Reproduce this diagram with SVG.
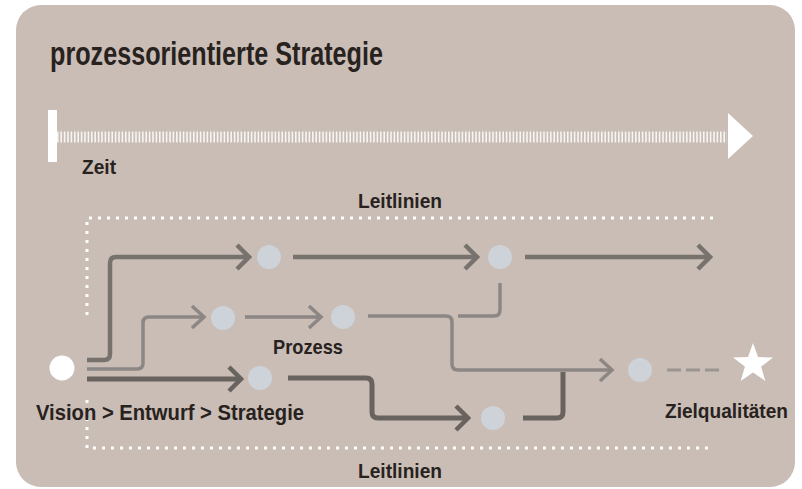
<svg xmlns="http://www.w3.org/2000/svg" width="802" height="489" viewBox="0 0 802 489">
<style>
.t{font-family:"Liberation Sans","Arial",sans-serif;font-weight:bold;fill:#28221f}
.dot{fill:none;stroke:#ffffff;stroke-width:3;stroke-dasharray:3 6}
.c{fill:none;stroke-linejoin:round}
.dk{stroke:#69635f;stroke-width:5}
.md{stroke:#78726f;stroke-width:4.5}
.lt{stroke:#8c8684;stroke-width:3.5}
.node{fill:#cdd3d8}
</style>
<defs>
<marker id="aDk" markerUnits="userSpaceOnUse" markerWidth="18" markerHeight="28" viewBox="0 0 18 28" refX="15" refY="14" orient="auto">
<path d="M3,2 L15,14 L3,26" fill="none" stroke="#69635f" stroke-width="4.5"/>
</marker>
<marker id="aMd" markerUnits="userSpaceOnUse" markerWidth="18" markerHeight="28" viewBox="0 0 18 28" refX="15" refY="14" orient="auto">
<path d="M3,2 L15,14 L3,26" fill="none" stroke="#78726f" stroke-width="4.5"/>
</marker>
<marker id="aLt" markerUnits="userSpaceOnUse" markerWidth="18" markerHeight="28" viewBox="0 0 18 28" refX="15" refY="14" orient="auto">
<path d="M3,3 L15,14 L3,25" fill="none" stroke="#8c8684" stroke-width="3.5"/>
</marker>
</defs>
<rect width="802" height="489" fill="#ffffff"/>
<rect x="16" y="5" width="779" height="482" rx="25" fill="#c9bdb5"/>

<text class="t" x="50" y="65" font-size="33" textLength="333" lengthAdjust="spacingAndGlyphs">prozessorientierte Strategie</text>

<g id="timeline">
<rect x="48" y="110" width="9" height="52" fill="#ffffff"/>
<path d="M57,137 H727" stroke="#ffffff" stroke-opacity="0.85" stroke-width="11" stroke-dasharray="1.6 1.8" fill="none"/>
<polygon points="728,113 753,136 728,159" fill="#ffffff"/>
<text class="t" x="82" y="174" font-size="20.5" textLength="34" lengthAdjust="spacingAndGlyphs">Zeit</text>
</g>

<g id="leitlinien">
<path class="dot" d="M713,218 H87 V320"/>
<path class="dot" d="M87,400 V448 H713"/>
<text class="t" x="358" y="208" font-size="20.5" textLength="84" lengthAdjust="spacingAndGlyphs">Leitlinien</text>
<text class="t" x="358" y="478" font-size="20.5" textLength="84" lengthAdjust="spacingAndGlyphs">Leitlinien</text>
</g>

<g id="connectors">
<path class="c md" d="M87,360 H104 Q110,360 110,354 V263 Q110,257 116,257 H249" marker-end="url(#aMd)"/>
<path class="c md" d="M293,257 H477" marker-end="url(#aMd)"/>
<path class="c md" d="M525,257 H710" marker-end="url(#aMd)"/>
<path class="c lt" d="M87,369 H137 Q143,369 143,363 V323 Q143,317 149,317 H204" marker-end="url(#aLt)"/>
<path class="c lt" d="M245,317 H321" marker-end="url(#aLt)"/>
<path class="c lt" d="M368,316 H446 Q452,316 452,322 V364 Q452,370 458,370 H612" marker-end="url(#aLt)"/>
<path class="c lt" d="M500,283 V310 Q500,316 494,316 H458"/>
<path class="c dk" d="M87,379 H241" marker-end="url(#aDk)"/>
<path class="c dk" d="M288,378 H366 Q372,378 372,384 V412 Q372,418 378,418 H468" marker-end="url(#aDk)"/>
<path class="c dk" d="M523,418 H557 Q563,418 563,412 V372"/>
<path d="M667,370 H722" fill="none" stroke="#9a9593" stroke-width="3" stroke-dasharray="14 5"/>
</g>

<g id="vision">
<circle cx="62" cy="368" r="12.5" fill="#ffffff"/>
<text class="t" x="36" y="420" font-size="22.5" textLength="268" lengthAdjust="spacingAndGlyphs">Vision &gt; Entwurf &gt; Strategie</text>
</g>
<g id="n1"><circle class="node" cx="269" cy="257" r="12"/></g>
<g id="n2"><circle class="node" cx="500" cy="257" r="12"/></g>
<g id="n3"><circle class="node" cx="223" cy="318" r="12"/></g>
<g id="n4"><circle class="node" cx="343" cy="317" r="12"/></g>
<g id="prozess"><text class="t" x="273" y="354" font-size="20.5" textLength="70" lengthAdjust="spacingAndGlyphs">Prozess</text></g>
<g id="n5"><circle class="node" cx="260" cy="378" r="12"/></g>
<g id="n6"><circle class="node" cx="493" cy="418" r="12"/></g>
<g id="n7"><circle class="node" cx="640" cy="370" r="12"/></g>
<g id="ziel">
<polygon points="753,343 758,357.1 773,357.5 761.1,366.6 765.3,381 753,372.5 740.7,381 744.9,366.6 733,357.5 748,357.1" fill="#ffffff"/>
<text class="t" x="665" y="418" font-size="20.5" textLength="123" lengthAdjust="spacingAndGlyphs">Zielqualitäten</text>
</g>
</svg>
